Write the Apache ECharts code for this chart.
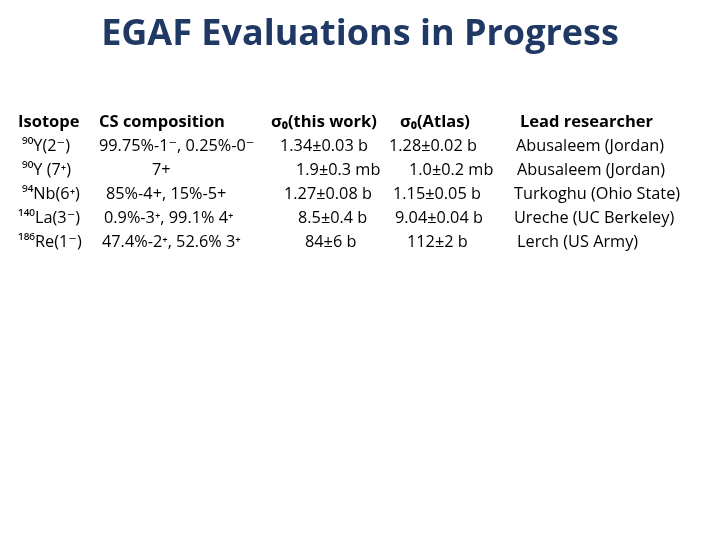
<!DOCTYPE html>
<html><head><meta charset="utf-8">
<script src="https://cdn.jsdelivr.net/npm/echarts@6/dist/echarts.min.js"></script>
<style>html,body{margin:0;padding:0;background:#fff}#c{width:720px;height:540px}</style>
</head><body><div id="c"></div>
<script>
var title = "EGAF Evaluations in Progress";
var headers = ["Isotope", "CS composition", "σ₀(this work)", "σ₀(Atlas)", "Lead researcher"];
var isotopes = ["⁹⁰Y(2⁻)", "⁹⁰Y (7⁺)", "⁹⁴Nb(6⁺)", "¹⁴⁰La(3⁻)", "¹⁸⁶Re(1⁻)"];
var compositions = ["99.75%-1⁻, 0.25%-0⁻", "7+", "85%-4+, 15%-5+", "0.9%-3⁺, 99.1% 4⁺", "47.4%-2⁺, 52.6% 3⁺"];
var sigmaThis = ["1.34±0.03 b", "1.9±0.3 mb", "1.27±0.08 b", "8.5±0.4 b", "84±6 b"];
var sigmaAtlas = ["1.28±0.02 b", "1.0±0.2 mb", "1.15±0.05 b", "9.04±0.04 b", "112±2 b"];
var researchers = ["Abusaleem (Jordan)", "Abusaleem (Jordan)", "Turkoghu (Ohio State)", "Ureche (UC Berkeley)", "Lerch (US Army)"];

var headerX = [18, 99, 271, 400, 520];
var colX = [[22,22,22,18,18],[99,152,106,104,102],[280,296,284,298,305],[389,409,393,395,407],[516,517,514,514,517]];
var rowY = [146,170,194,218,242];
var font = "'Open Sans', 'DejaVu Sans', sans-serif";
var els = [];
els.push({type:'text', left:'center', top:17, style:{text:title, font:"bold 36px " + font, fill:'#1f3864', shadowColor:'rgba(0,0,0,0.35)', shadowBlur:2, shadowOffsetX:2, shadowOffsetY:2}});
headers.forEach(function(h,i){
  els.push({type:'text', x:headerX[i], y:122, style:{text:h, font:"bold 16.5px " + font, fill:'#000', textVerticalAlign:'middle'}});
});
var cols = [isotopes, compositions, sigmaThis, sigmaAtlas, researchers];
cols.forEach(function(col,ci){
  col.forEach(function(t,ri){
    els.push({type:'text', x:colX[ci][ri], y:rowY[ri], style:{text:t, font:"16.3px " + font, fill:'#000', textVerticalAlign:'middle'}});
  });
});
var chart = echarts.init(document.getElementById('c'));
chart.setOption({graphic:{elements:els}});
</script></body></html>
